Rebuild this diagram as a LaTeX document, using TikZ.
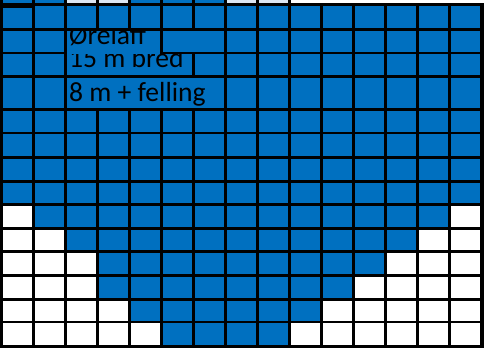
\documentclass[tikz,border=0pt]{standalone}
\usepackage{fontspec}
\newfontfamily\calibri{Carlito}
\definecolor{cellblue}{RGB}{0,112,192}
\definecolor{celllight}{RGB}{220,230,242}
\tikzset{
  lbl/.style={anchor=base west, inner sep=0pt, text=black, font=\calibri\fontsize{27.6}{27.6}\selectfont},
  cover/.style={fill=cellblue}
}
\begin{document}
\begin{tikzpicture}[x=1pt,y=-1pt]
\useasboundingbox (0,0) rectangle (484,350);
\fill[white] (0,0) rectangle (484,350);
% grid lines as black background
\fill[black] (0,0) rectangle (291,348.3);
\fill[black] (291,3.5) rectangle (484,348.3);
% top partial row
\foreach \c/\col in {0/cellblue,1/cellblue,2/celllight,3/celllight,4/cellblue,5/cellblue,6/cellblue,7/celllight,8/celllight} {
  \fill[\col] ({32*\c+3},0) rectangle ({32*\c+32},3.5);
}
% full rows: top/bottom/white cells on left/white cells on right
\foreach \ya/\yb/\lw/\rw in {6.5/28.3/0/0, 31/52/0/0, 54.3/75/0/0, 78/108.3/0/0, 111/132/0/0, 134.3/156/0/0, 158.5/180/0/0, 183/203.3/0/0, 206/227/1/1, 230/250/2/2, 253/274/3/3, 277/298/3/4, 301/321/4/5, 323.3/345/5/6} {
  \foreach \c in {0,...,14} {
    \ifnum\c<\lw\relax\def\cc{white}\else\ifnum\c>\numexpr14-\rw\relax\def\cc{white}\else\def\cc{cellblue}\fi\fi
    \fill[\cc] ({32*\c+3},\ya) rectangle ({32*\c+32},\yb);
  }
}
\fill[black] (0,2.7) rectangle (32,8.5);
% text box areas
\fill[cover] (67,31) rectangle (160,54.3);
\fill[cover] (163,31) rectangle (224,52);
\fill[cover] (67,54.3) rectangle (192,75);
\fill[cover] (67,78) rectangle (224,108.3);
% texts
\begin{scope}
  \clip (67,31) rectangle (224,54.3);
  \node[lbl] (t1) at (69,44.3) {Ørelaff};
\end{scope}
\begin{scope}
  \clip (67,54.3) rectangle (192,75);
  \node[lbl] (t2) at (69,67.7) {15 m bred};
\end{scope}
\begin{scope}
  \clip (67,78) rectangle (224,108.3);
  \node[lbl] (t3) at (69,101.7) {8 m + felling};
\end{scope}
\end{tikzpicture}
\end{document}
